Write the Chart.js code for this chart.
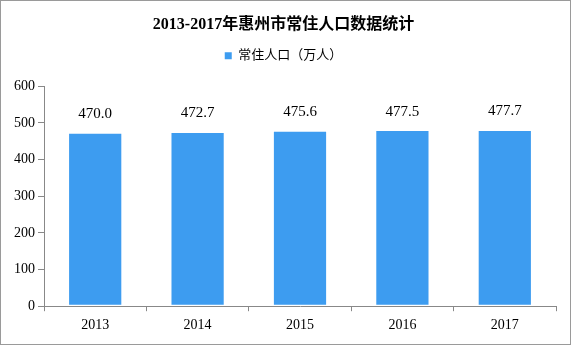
<!DOCTYPE html>
<html>
<head>
<meta charset="utf-8">
<script src="https://cdn.jsdelivr.net/npm/chart.js@4/dist/chart.umd.min.js"></script>
<style>
  html, body { margin: 0; padding: 0; background: #fff; }
  #wrap { width: 571px; height: 345px; }
</style>
</head>
<body>
<div id="wrap"><canvas id="popChart" width="571" height="345"></canvas></div>
<script>
// chart data
const years = ["2013", "2014", "2015", "2016", "2017"];
const population = [470.0, 472.7, 475.6, 477.5, 477.7];
const yTicks = [0, 100, 200, 300, 400, 500, 600];

const titleText = "2013-2017年惠州市常住人口数据统计";
const seriesName = "常住人口（万人）";
const fontStack = "'Liberation Serif', 'Noto Sans CJK SC', serif";

// draws the value above each bar
const valueLabels = {
  id: "valueLabels",
  afterDatasetsDraw(chart) {
    const ctx = chart.ctx;
    const meta = chart.getDatasetMeta(0);
    ctx.save();
    ctx.font = "15px " + fontStack;
    ctx.fillStyle = "#000";
    ctx.textAlign = "center";
    ctx.textBaseline = "bottom";
    meta.data.forEach((bar, i) => {
      ctx.fillText(population[i].toFixed(1), bar.x, bar.y - 12);
    });
    ctx.restore();
  }
};

// extra room under the legend
const legendGap = {
  id: "legendGap",
  beforeInit(chart) {
    const fit = chart.legend.fit;
    chart.legend.fit = function () {
      fit.bind(chart.legend)();
      this.height += 14;
    };
  }
};

// thin grey frame round the whole picture
const frame = {
  id: "frame",
  afterDraw(chart) {
    const ctx = chart.ctx;
    ctx.save();
    ctx.strokeStyle = "#9a9a9a";
    ctx.lineWidth = 1;
    ctx.strokeRect(0.5, 0.5, chart.width - 1, chart.height - 1);
    ctx.restore();
  }
};

const ctx = document.getElementById("popChart").getContext("2d");
new Chart(ctx, {
  type: "bar",
  data: {
    labels: years,
    datasets: [{
      label: seriesName,
      data: population,
      backgroundColor: "#3d9cf0",
      borderWidth: 0,
      base: 4,
      barPercentage: 0.51,
      categoryPercentage: 1.0
    }]
  },
  options: {
    responsive: false,
    animation: false,
    devicePixelRatio: 1,
    layout: { padding: { top: 9, left: 11, right: 15, bottom: 5 } },
    plugins: {
      title: {
        display: true,
        text: titleText,
        color: "#000",
        font: { family: fontStack, size: 16, weight: "bold" },
        padding: { top: 6, bottom: 9 }
      },
      legend: {
        display: true,
        labels: {
          boxWidth: 7,
          boxHeight: 7,
          color: "#000",
          font: { family: fontStack, size: 13 },
          padding: 6
        }
      },
      tooltip: { enabled: false }
    },
    scales: {
      x: {
        border: { color: "#888", width: 1 },
        grid: { display: true, drawOnChartArea: false, drawTicks: true, tickLength: 5, color: "#888" },
        ticks: { color: "#000", font: { family: fontStack, size: 14 }, padding: 6 }
      },
      y: {
        min: 0,
        max: 600,
        afterBuildTicks(axis) { axis.ticks = yTicks.map(v => ({ value: v })); },
        border: { color: "#888", width: 1 },
        grid: { display: true, drawOnChartArea: false, drawTicks: true, tickLength: 6, color: "#888" },
        ticks: { color: "#000", font: { family: fontStack, size: 14 }, padding: 3 }
      }
    }
  },
  plugins: [valueLabels, legendGap, frame]
});
</script>
</body>
</html>
